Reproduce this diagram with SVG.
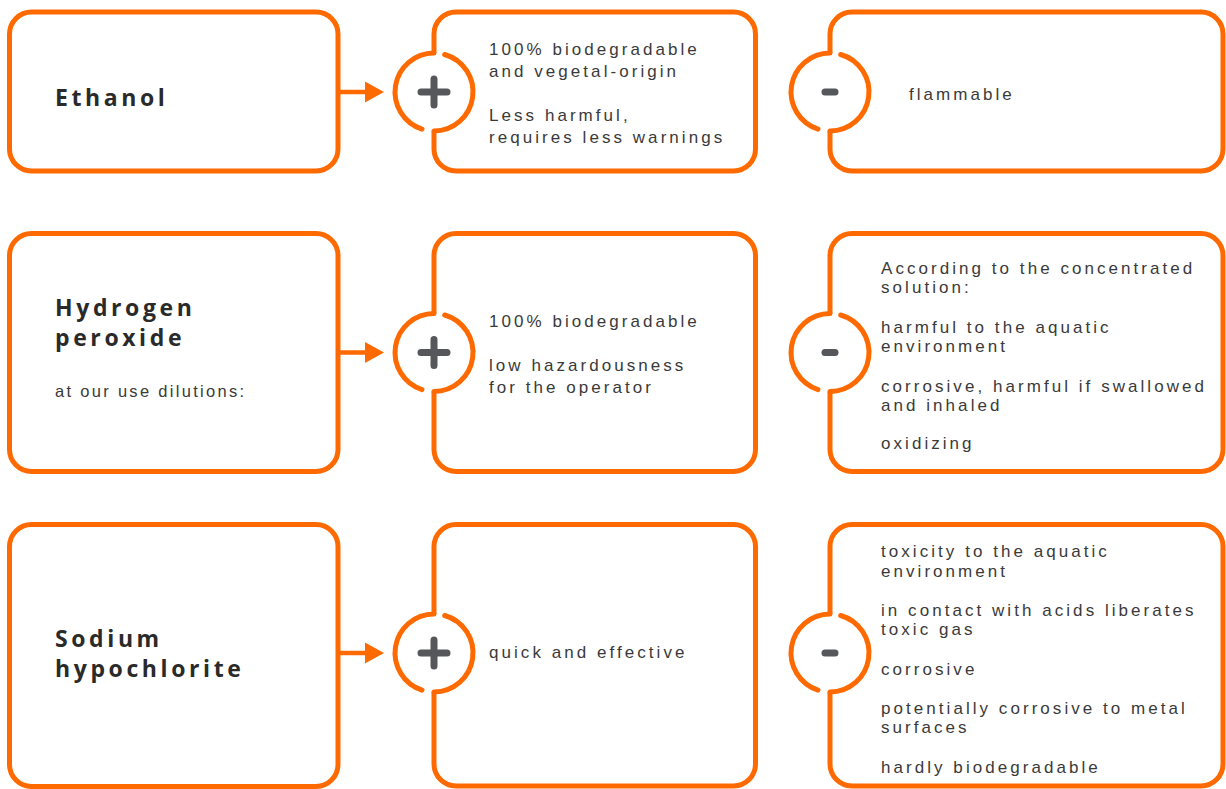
<svg xmlns="http://www.w3.org/2000/svg" width="1226" height="789" viewBox="0 0 1226 789">
<style>
.box{fill:none;stroke:#ff6a00;stroke-width:5;stroke-linejoin:round}
.ring{fill:none;stroke:#ff6a00;stroke-width:5;stroke-linecap:round}
.sym{stroke:#55575b;stroke-width:7;stroke-linecap:round;fill:none}
.arr{stroke:#ff6a00;stroke-width:4.5;fill:none}
.ah{fill:#ff6a00}
.t{font-family:"Liberation Sans",Arial,sans-serif;font-size:17px;letter-spacing:3.05px;fill:#3a3a3a}
.h{font-family:"Open Sans","Liberation Sans",sans-serif;font-size:23px;font-weight:bold;letter-spacing:3.6px;fill:#2a2a2a}
.s{font-family:"Liberation Sans",Arial,sans-serif;font-size:16.5px;letter-spacing:2.3px;fill:#3a3a3a}
</style>
<rect width="1226" height="789" fill="#fff"/>

<!-- Row 1 -->
<g id="ethanol">
<rect class="box" x="9.5" y="12" width="328.5" height="159" rx="22"/>
<text class="h" x="55" y="106">Ethanol</text>
</g>
<g id="ethanol-pros">
<path class="box" d="M434,53 V34 A22 22 0 0 1 456,12 H733.5 A22 22 0 0 1 755.5,34 V149 A22 22 0 0 1 733.5,171 H456 A22 22 0 0 1 434,149 V131"/>
<path class="ring" d="M434,53 A39 39 0 0 0 422,129.1 M444.7,54.5 A39 39 0 0 1 434,131"/>
<path class="sym" d="M421,92 H447 M434,79 V105"/>
<text class="t" x="489" y="55">100% biodegradable<tspan x="489" dy="22">and vegetal-origin</tspan></text>
<text class="t" x="489" y="121">Less harmful,<tspan x="489" dy="22">requires less warnings</tspan></text>
</g>
<g id="ethanol-cons">
<path class="box" d="M830,53 V34 A22 22 0 0 1 852,12 H1201 A22 22 0 0 1 1223,34 V149 A22 22 0 0 1 1201,171 H852 A22 22 0 0 1 830,149 V131"/>
<path class="ring" d="M830,53 A39 39 0 0 0 818,129.1 M840.7,54.5 A39 39 0 0 1 830,131"/>
<path class="sym" d="M825,92 H835"/>
<text class="t" x="909" y="100">flammable</text>
</g>

<!-- Row 2 -->
<g id="hydrogen-peroxide">
<rect class="box" x="9.5" y="233.5" width="328.5" height="238" rx="22"/>
<text class="h" x="55" y="316">Hydrogen<tspan x="55" dy="30">peroxide</tspan></text>
<text class="s" x="55" y="397">at our use dilutions:</text>
</g>
<g id="hydrogen-peroxide-pros">
<path class="box" d="M434,313.5 V255.5 A22 22 0 0 1 456,233.5 H733.5 A22 22 0 0 1 755.5,255.5 V449.5 A22 22 0 0 1 733.5,471.5 H456 A22 22 0 0 1 434,449.5 V391.5"/>
<path class="ring" d="M434,313.5 A39 39 0 0 0 422,389.6 M444.7,315 A39 39 0 0 1 434,391.5"/>
<path class="sym" d="M421,352.5 H447 M434,339.5 V365.5"/>
<text class="t" x="489" y="327">100% biodegradable</text>
<text class="t" x="489" y="371">low hazardousness<tspan x="489" dy="22">for the operator</tspan></text>
</g>
<g id="hydrogen-peroxide-cons">
<path class="box" d="M830,313.5 V255.5 A22 22 0 0 1 852,233.5 H1201 A22 22 0 0 1 1223,255.5 V449.5 A22 22 0 0 1 1201,471.5 H852 A22 22 0 0 1 830,449.5 V391.5"/>
<path class="ring" d="M830,313.5 A39 39 0 0 0 818,389.6 M840.7,315 A39 39 0 0 1 830,391.5"/>
<path class="sym" d="M825,352.5 H835"/>
<text class="t" x="881" y="274">According to the concentrated<tspan x="881" dy="19">solution:</tspan></text>
<text class="t" x="881" y="333">harmful to the aquatic<tspan x="881" dy="19">environment</tspan></text>
<text class="t" x="881" y="392">corrosive, harmful if swallowed<tspan x="881" dy="19">and inhaled</tspan></text>
<text class="t" x="881" y="449">oxidizing</text>
</g>

<!-- Row 3 -->
<g id="sodium-hypochlorite">
<rect class="box" x="9.5" y="524.5" width="328.5" height="262" rx="22"/>
<text class="h" x="55" y="647">Sodium<tspan x="55" dy="30">hypochlorite</tspan></text>
</g>
<g id="sodium-hypochlorite-pros">
<path class="box" d="M434,614 V546.5 A22 22 0 0 1 456,524.5 H733.5 A22 22 0 0 1 755.5,546.5 V764 A22 22 0 0 1 733.5,786 H456 A22 22 0 0 1 434,764 V692"/>
<path class="ring" d="M434,614 A39 39 0 0 0 422,690.1 M444.7,615.5 A39 39 0 0 1 434,692"/>
<path class="sym" d="M421,653 H447 M434,640 V666"/>
<text class="t" x="489" y="658">quick and effective</text>
</g>
<g id="sodium-hypochlorite-cons">
<path class="box" d="M830,614 V546.5 A22 22 0 0 1 852,524.5 H1201 A22 22 0 0 1 1223,546.5 V764 A22 22 0 0 1 1201,786 H852 A22 22 0 0 1 830,764 V692"/>
<path class="ring" d="M830,614 A39 39 0 0 0 818,690.1 M840.7,615.5 A39 39 0 0 1 830,692"/>
<path class="sym" d="M825,653 H835"/>
<text class="t" x="881" y="557">toxicity to the aquatic<tspan x="881" dy="20">environment</tspan></text>
<text class="t" x="881" y="616">in contact with acids liberates<tspan x="881" dy="19">toxic gas</tspan></text>
<text class="t" x="881" y="675">corrosive</text>
<text class="t" x="881" y="714">potentially corrosive to metal<tspan x="881" dy="19">surfaces</tspan></text>
<text class="t" x="881" y="773">hardly biodegradable</text>
</g>

<g id="connectors">
<path class="arr" d="M338,92 H368"/>
<polygon class="ah" points="365,81.5 384,92 365,102.5"/>
<path class="arr" d="M338,352.5 H368"/>
<polygon class="ah" points="365,342 384,352.5 365,363"/>
<path class="arr" d="M338,653 H368"/>
<polygon class="ah" points="365,642.5 384,653 365,663.5"/>
</g>
</svg>
